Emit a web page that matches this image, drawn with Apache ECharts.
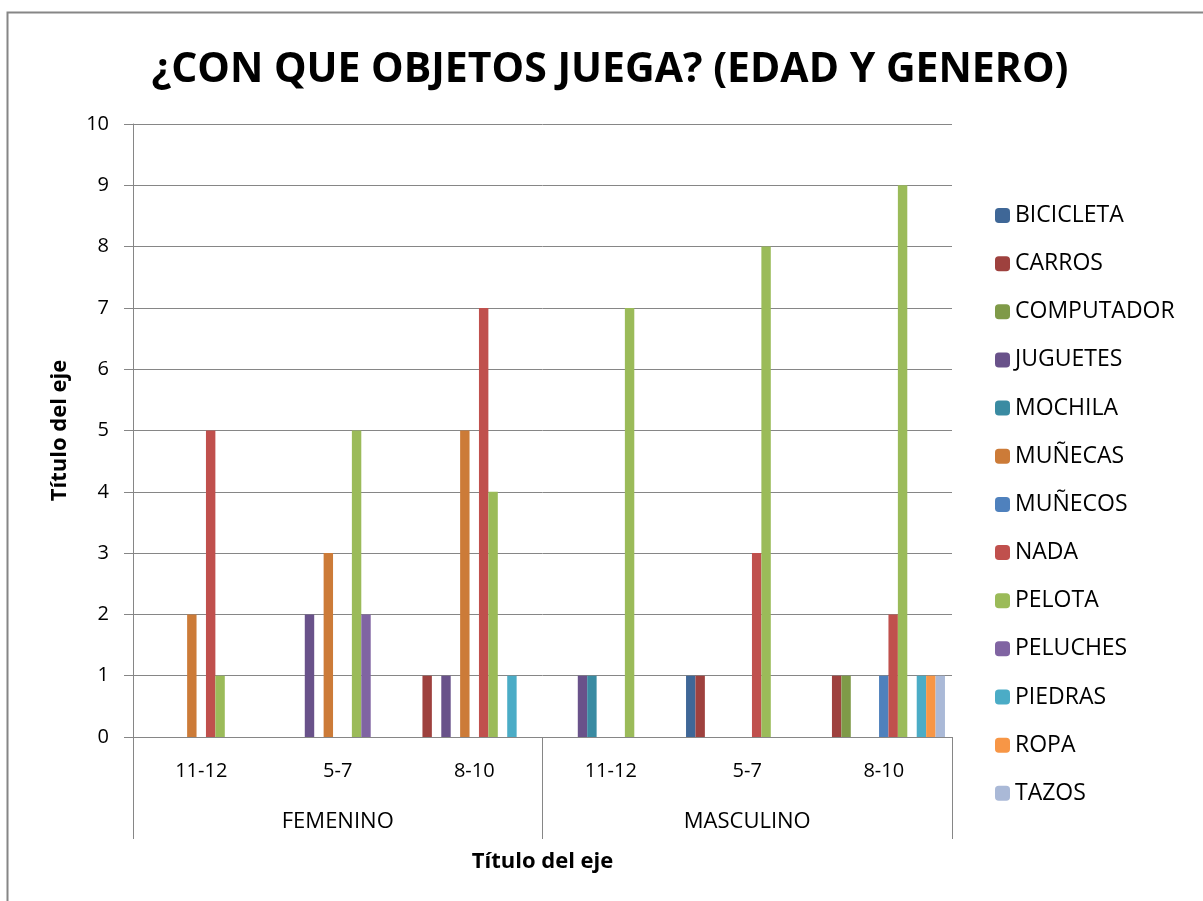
<!DOCTYPE html>
<html style="height: 100%">
   <head>
       <meta charset="utf-8">
   </head>
   <body style="height: 100%; margin: 0; background: #fff">
       <div id="container" style="width: 1203px; height: 901px"></div>
       <script type="text/javascript" src="https://cdn.jsdelivr.net/npm/echarts@6/dist/echarts.min.js"></script>
       <script type="text/javascript">
// edad por genero
var edades = ['11-12', '5-7', '8-10', '11-12', '5-7', '8-10'];
var generos = ['FEMENINO', 'MASCULINO'];
var yTicks = [0, 10, 1];

var bicicleta  = [null, null, null, null, 1, null];
var carros     = [null, null, 1, null, 1, 1];
var computador = [null, null, null, null, null, 1];
var juguetes   = [null, 2, 1, 1, null, null];
var mochila    = [null, null, null, 1, null, null];
var munecas    = [2, 3, 5, null, null, null];
var munecos    = [null, null, null, null, null, 1];
var nada       = [5, null, 7, null, 3, 2];
var pelota     = [1, 5, 4, 7, 8, 9];
var peluches   = [null, 2, null, null, null, null];
var piedras    = [null, null, 1, null, null, 1];
var ropa       = [null, null, null, null, null, 1];
var tazos      = [null, null, null, null, null, 1];

var nombres = ['BICICLETA', 'CARROS', 'COMPUTADOR', 'JUGUETES', 'MOCHILA', 'MUÑECAS',
    'MUÑECOS', 'NADA', 'PELOTA', 'PELUCHES', 'PIEDRAS', 'ROPA', 'TAZOS'];
var valores = [bicicleta, carros, computador, juguetes, mochila, munecas,
    munecos, nada, pelota, peluches, piedras, ropa, tazos];
var colores = ['#3F6797', '#9E413E', '#7F9A48', '#69528A', '#3A8BA2', '#CC7B38',
    '#4F81BD', '#C0504D', '#9BBB59', '#8064A2', '#4BACC6', '#F79646', '#AAB9D7'];

var fuente = 'Open Sans';
var gris = '#868686';

var dom = document.getElementById("container");
var myChart = echarts.init(dom);
var option = {
    backgroundColor: '#fff',
    animation: false,
    color: colores,
    title: {
        text: '¿CON QUE OBJETOS JUEGA? (EDAD Y GENERO)',
        left: 605,
        textAlign: 'center',
        top: 45,
        textStyle: { fontFamily: fuente, fontWeight: 'bold', fontSize: 41, color: '#000' }
    },
    legend: {
        orient: 'vertical',
        left: 990,
        top: 199,
        itemWidth: 15,
        itemHeight: 15,
        itemGap: 25.15,
        textStyle: { fontFamily: fuente, fontSize: 23, lineHeight: 20, color: '#000' },
        data: nombres
    },
    grid: { left: 133, right: 251, top: 124, bottom: 164 },
    xAxis: [
        {
            type: 'category',
            data: edades,
            axisLine: { lineStyle: { color: gris } },
            axisTick: { show: false },
            axisLabel: { fontFamily: fuente, fontSize: 20, color: '#000', margin: 24 }
        },
        {
            type: 'category',
            data: generos,
            position: 'bottom',
            axisLine: { show: false },
            axisTick: { show: true, length: 102, lineStyle: { color: gris } },
            axisLabel: { fontFamily: fuente, fontSize: 22, color: '#000', margin: 74 },
            name: 'Título del eje',
            nameLocation: 'middle',
            nameGap: 114,
            nameTextStyle: { fontFamily: fuente, fontSize: 22, fontWeight: 'bold', color: '#000' }
        }
    ],
    yAxis: {
        type: 'value',
        min: yTicks[0],
        max: yTicks[1],
        interval: yTicks[2],
        name: 'Título del eje',
        nameLocation: 'middle',
        nameGap: 62,
        nameTextStyle: { fontFamily: fuente, fontSize: 22, fontWeight: 'bold', color: '#000' },
        axisLine: { show: true, lineStyle: { color: gris } },
        axisTick: { show: true, length: 9, lineStyle: { color: gris } },
        splitLine: { lineStyle: { color: gris } },
        axisLabel: { fontFamily: fuente, fontSize: 20, color: '#000', margin: 24 }
    },
    graphic: [
        { type: 'rect', shape: { x: 7.5, y: 12.5, width: 1300, height: 1000 },
          style: { fill: null, stroke: gris, lineWidth: 2 }, silent: true }
    ],
    series: nombres.map(function (n, i) {
        return {
            name: n,
            type: 'bar',
            xAxisIndex: 0,
            data: valores[i],
            barGap: '0%',
            barCategoryGap: '10.3%'
        };
    })
};
myChart.setOption(option);
       </script>
   </body>
</html>
